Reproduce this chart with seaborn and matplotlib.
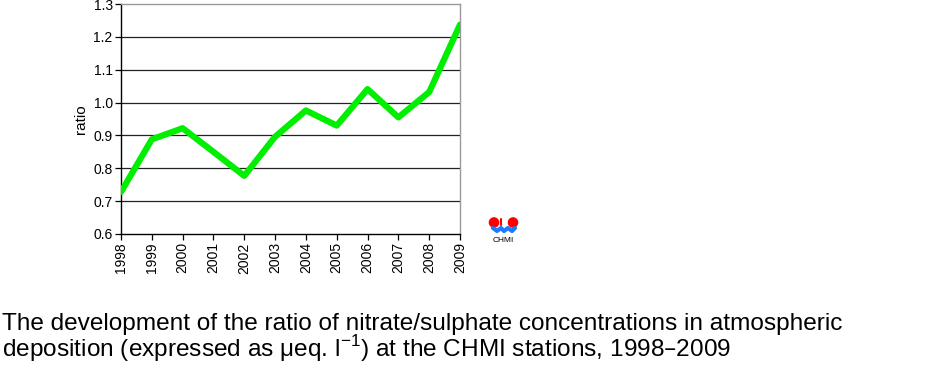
import matplotlib
matplotlib.use("Agg")
import matplotlib.pyplot as plt
import seaborn as sns
import pandas as pd
from matplotlib.patches import Circle

years = [1998, 1999, 2000, 2001, 2002, 2003, 2004, 2005, 2006, 2007, 2008, 2009]
ratio = [0.728, 0.888, 0.922, 0.850, 0.777, 0.896, 0.976, 0.930, 1.041, 0.955, 1.032, 1.237]
df = pd.DataFrame({"year": years, "ratio": ratio})

sns.set_style("white")
plt.rcParams["font.family"] = ["Liberation Sans", "DejaVu Sans"]
plt.rcParams["text.color"] = "black"
plt.rcParams["axes.labelcolor"] = "black"
plt.rcParams["xtick.color"] = "black"
plt.rcParams["ytick.color"] = "black"

fig = plt.figure(figsize=(9.5, 3.73), dpi=100)
ax = fig.add_axes([121 / 950, 139 / 373, 339 / 950, 230 / 373])

for v in [0.7, 0.8, 0.9, 1.0, 1.1, 1.2]:
    ax.axhline(v, color="#222222", lw=0.9, zorder=1)

sns.lineplot(data=df, x="year", y="ratio", color="#00ee00", lw=4.5, ax=ax, zorder=3)

ax.set_xlim(1998, 2009)
ax.set_ylim(0.6, 1.3)
ax.set_xticks(years)
ax.set_xticklabels([str(y) for y in years], rotation=90, fontsize=10)
ax.set_yticks([0.6, 0.7, 0.8, 0.9, 1.0, 1.1, 1.2, 1.3])
ax.set_yticklabels(["0.6", "0.7", "0.8", "0.9", "1.0", "1.1", "1.2", "1.3"], fontsize=10)
ax.set_xlabel("")
ax.set_ylabel("ratio", fontsize=11, labelpad=4)
ax.tick_params(axis="both", length=4, width=0.9, color="black", direction="out", pad=2)
ax.tick_params(axis="both", which="both", bottom=True, left=True)
for s in ["top", "right"]:
    ax.spines[s].set_color("#999999")
    ax.spines[s].set_linewidth(1)
for s in ["left", "bottom"]:
    ax.spines[s].set_color("black")
    ax.spines[s].set_linewidth(1)

# CHMI logo (axes in pixel units, origin at top-left of the logo box)
lax = fig.add_axes([486 / 950, (373 - 236) / 373, 36 / 950, 20 / 373])
lax.set_xlim(486, 522)
lax.set_ylim(236, 216)
lax.axis("off")
lax.add_patch(Circle((494, 222.5), 4.6, color="#ff0000"))
lax.add_patch(Circle((513, 222.5), 4.6, color="#ff0000"))
lax.plot([501.5, 501.5], [219, 225], color="#ff0000", lw=1.5)
lax.plot([493, 497, 501, 504, 508, 512, 515], [228, 231, 228, 231, 228, 231, 228],
         color="#1e7bff", lw=3, solid_capstyle="round")
fig.text(503 / 950, 1 - 241 / 373, "CHMI", fontsize=6, ha="center", va="center")

fig.text(2 / 950, 1 - 324 / 373,
         "The development of the ratio of nitrate/sulphate concentrations in atmospheric",
         fontsize=17.6, va="center", ha="left")
fig.text(2 / 950, 1 - 349 / 373,
         r"deposition (expressed as μeq. l$^{\mathregular{-1}}$) at the CHMI stations, 1998–2009",
         fontsize=17.6, va="center", ha="left")

fig.savefig("out.png", dpi=100)
